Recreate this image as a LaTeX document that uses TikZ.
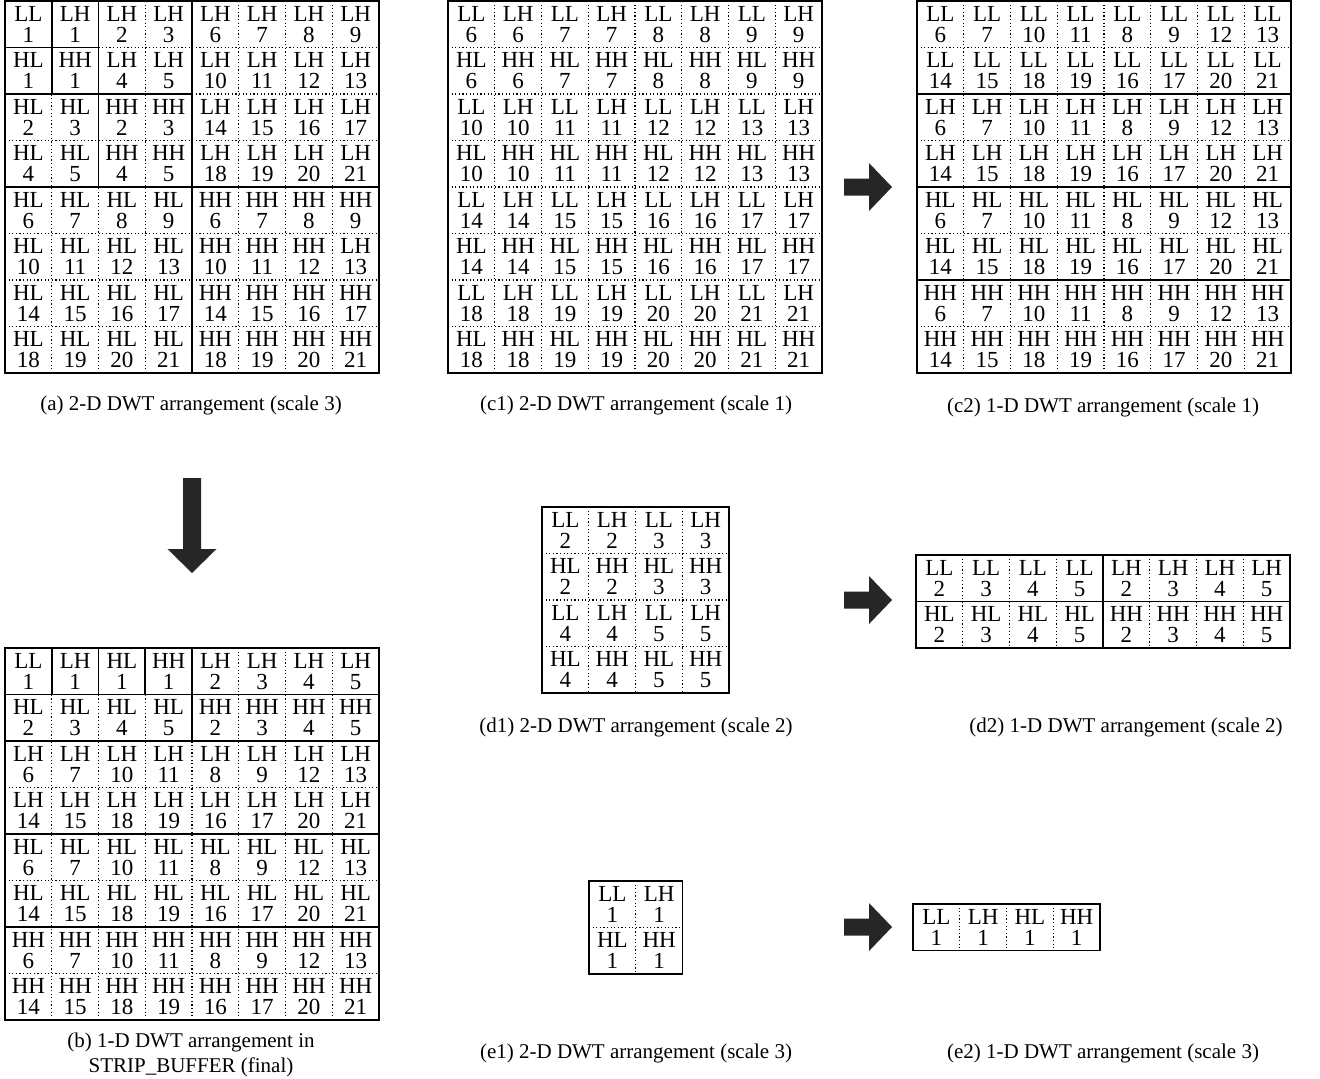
\documentclass[tikz,border=0pt]{standalone}
\usepackage{fontspec}
\setmainfont{Liberation Serif}
\begin{document}
\begin{tikzpicture}[x=0.5pt,y=-0.5pt,
  cell/.style={align=center,inner sep=0pt,font=\fontsize{11.5}{10.5}\selectfont},
  caption/.style={align=center,inner sep=0pt,font=\fontsize{10.5}{12.5}\selectfont},
  dotline/.style={line width=0.6pt,dash pattern=on 0.6pt off 1.2pt},
  bandline/.style={line width=0.8pt},
  frame/.style={line width=0.7pt},
  blockarrow/.style={fill=black!85}]

\useasboundingbox (0,0) rectangle (1320,1078);
\def\cw{46.75}
\def\ch{46.5}

% (a) 2-D arrangement, scale 3
\begin{scope}[shift={(5,1)}]
\foreach \i in {1,...,7} {
  \draw[dotline] (\i*\cw,0) -- (\i*\cw,8*\ch);
  \draw[dotline] (0,\i*\ch) -- (8*\cw,\i*\ch);
}
\draw[bandline] (4*\cw,0) -- (4*\cw,8*\ch);
\draw[bandline] (0,4*\ch) -- (8*\cw,4*\ch);
\draw[bandline] (2*\cw,0) -- (2*\cw,4*\ch);
\draw[bandline] (0,2*\ch) -- (4*\cw,2*\ch);
\draw[bandline] (1*\cw,0) -- (1*\cw,2*\ch);
\draw[bandline] (0,1*\ch) -- (2*\cw,1*\ch);
\draw[frame] (0,0) rectangle (8*\cw,8*\ch);
\foreach \row [count=\r from 0] in {
  {LL/1,LH/1,LH/2,LH/3,LH/6,LH/7,LH/8,LH/9},
  {HL/1,HH/1,LH/4,LH/5,LH/10,LH/11,LH/12,LH/13},
  {HL/2,HL/3,HH/2,HH/3,LH/14,LH/15,LH/16,LH/17},
  {HL/4,HL/5,HH/4,HH/5,LH/18,LH/19,LH/20,LH/21},
  {HL/6,HL/7,HL/8,HL/9,HH/6,HH/7,HH/8,HH/9},
  {HL/10,HL/11,HL/12,HL/13,HH/10,HH/11,HH/12,LH/13},
  {HL/14,HL/15,HL/16,HL/17,HH/14,HH/15,HH/16,HH/17},
  {HL/18,HL/19,HL/20,HL/21,HH/18,HH/19,HH/20,HH/21}}
  \foreach \lab/\num [count=\c from 0] in \row
    \node[cell] (a-\r-\c) at ({(\c+0.5)*\cw},{(\r+0.5)*\ch}) {\lab\\\num};
\end{scope}

% (c1) 2-D arrangement, scale 1
\begin{scope}[shift={(448,1)}]
\foreach \i in {1,...,7} {
  \draw[dotline] (\i*\cw,0) -- (\i*\cw,8*\ch);
  \draw[dotline] (0,\i*\ch) -- (8*\cw,\i*\ch);
}
\draw[frame] (0,0) rectangle (8*\cw,8*\ch);
\foreach \row [count=\r from 0] in {
  {LL/6,LH/6,LL/7,LH/7,LL/8,LH/8,LL/9,LH/9},
  {HL/6,HH/6,HL/7,HH/7,HL/8,HH/8,HL/9,HH/9},
  {LL/10,LH/10,LL/11,LH/11,LL/12,LH/12,LL/13,LH/13},
  {HL/10,HH/10,HL/11,HH/11,HL/12,HH/12,HL/13,HH/13},
  {LL/14,LH/14,LL/15,LH/15,LL/16,LH/16,LL/17,LH/17},
  {HL/14,HH/14,HL/15,HH/15,HL/16,HH/16,HL/17,HH/17},
  {LL/18,LH/18,LL/19,LH/19,LL/20,LH/20,LL/21,LH/21},
  {HL/18,HH/18,HL/19,HH/19,HL/20,HH/20,HL/21,HH/21}}
  \foreach \lab/\num [count=\c from 0] in \row
    \node[cell] (c1-\r-\c) at ({(\c+0.5)*\cw},{(\r+0.5)*\ch}) {\lab\\\num};
\end{scope}

% (c2) 1-D arrangement, scale 1
\begin{scope}[shift={(917,1)}]
\foreach \i in {1,...,7} {
  \draw[dotline] (\i*\cw,0) -- (\i*\cw,8*\ch);
  \draw[dotline] (0,\i*\ch) -- (8*\cw,\i*\ch);
}
\foreach \i in {2,4,6}
  \draw[bandline] (0,\i*\ch) -- (8*\cw,\i*\ch);
\draw[frame] (0,0) rectangle (8*\cw,8*\ch);
\foreach \row [count=\r from 0] in {
  {LL/6,LL/7,LL/10,LL/11,LL/8,LL/9,LL/12,LL/13},
  {LL/14,LL/15,LL/18,LL/19,LL/16,LL/17,LL/20,LL/21},
  {LH/6,LH/7,LH/10,LH/11,LH/8,LH/9,LH/12,LH/13},
  {LH/14,LH/15,LH/18,LH/19,LH/16,LH/17,LH/20,LH/21},
  {HL/6,HL/7,HL/10,HL/11,HL/8,HL/9,HL/12,HL/13},
  {HL/14,HL/15,HL/18,HL/19,HL/16,HL/17,HL/20,HL/21},
  {HH/6,HH/7,HH/10,HH/11,HH/8,HH/9,HH/12,HH/13},
  {HH/14,HH/15,HH/18,HH/19,HH/16,HH/17,HH/20,HH/21}}
  \foreach \lab/\num [count=\c from 0] in \row
    \node[cell] (c2-\r-\c) at ({(\c+0.5)*\cw},{(\r+0.5)*\ch}) {\lab\\\num};
\end{scope}

% (b) final strip buffer
\begin{scope}[shift={(5,648)}]
\foreach \i in {1,...,7} {
  \draw[dotline] (\i*\cw,0) -- (\i*\cw,8*\ch);
  \draw[dotline] (0,\i*\ch) -- (8*\cw,\i*\ch);
}
\foreach \i in {1,2,3}
  \draw[bandline] (\i*\cw,0) -- (\i*\cw,\ch);
\draw[bandline] (4*\cw,0) -- (4*\cw,2*\ch);
\foreach \i in {1,2,4,6}
  \draw[bandline] (0,\i*\ch) -- (8*\cw,\i*\ch);
\draw[frame] (0,0) rectangle (8*\cw,8*\ch);
\foreach \row [count=\r from 0] in {
  {LL/1,LH/1,HL/1,HH/1,LH/2,LH/3,LH/4,LH/5},
  {HL/2,HL/3,HL/4,HL/5,HH/2,HH/3,HH/4,HH/5},
  {LH/6,LH/7,LH/10,LH/11,LH/8,LH/9,LH/12,LH/13},
  {LH/14,LH/15,LH/18,LH/19,LH/16,LH/17,LH/20,LH/21},
  {HL/6,HL/7,HL/10,HL/11,HL/8,HL/9,HL/12,HL/13},
  {HL/14,HL/15,HL/18,HL/19,HL/16,HL/17,HL/20,HL/21},
  {HH/6,HH/7,HH/10,HH/11,HH/8,HH/9,HH/12,HH/13},
  {HH/14,HH/15,HH/18,HH/19,HH/16,HH/17,HH/20,HH/21}}
  \foreach \lab/\num [count=\c from 0] in \row
    \node[cell] (b-\r-\c) at ({(\c+0.5)*\cw},{(\r+0.5)*\ch}) {\lab\\\num};
\end{scope}

% (d1) 2-D arrangement, scale 2
\begin{scope}[shift={(542,507)}]
\foreach \i in {1,2,3} {
  \draw[dotline] (\i*\cw,0) -- (\i*\cw,4*\ch);
  \draw[dotline] (0,\i*\ch) -- (4*\cw,\i*\ch);
}
\draw[frame] (0,0) rectangle (4*\cw,4*\ch);
\foreach \row [count=\r from 0] in {
  {LL/2,LH/2,LL/3,LH/3},
  {HL/2,HH/2,HL/3,HH/3},
  {LL/4,LH/4,LL/5,LH/5},
  {HL/4,HH/4,HL/5,HH/5}}
  \foreach \lab/\num [count=\c from 0] in \row
    \node[cell] (d1-\r-\c) at ({(\c+0.5)*\cw},{(\r+0.5)*\ch}) {\lab\\\num};
\end{scope}

% (d2) 1-D arrangement, scale 2
\begin{scope}[shift={(916,555)}]
\foreach \i in {1,...,7}
  \draw[dotline] (\i*\cw,0) -- (\i*\cw,2*\ch);
\draw[bandline] (4*\cw,0) -- (4*\cw,2*\ch);
\draw[bandline] (0,\ch) -- (8*\cw,\ch);
\draw[frame] (0,0) rectangle (8*\cw,2*\ch);
\foreach \row [count=\r from 0] in {
  {LL/2,LL/3,LL/4,LL/5,LH/2,LH/3,LH/4,LH/5},
  {HL/2,HL/3,HL/4,HL/5,HH/2,HH/3,HH/4,HH/5}}
  \foreach \lab/\num [count=\c from 0] in \row
    \node[cell] (d2-\r-\c) at ({(\c+0.5)*\cw},{(\r+0.5)*\ch}) {\lab\\\num};
\end{scope}

% (e1) 2-D arrangement, scale 3
\begin{scope}[shift={(589,881)}]
\draw[dotline] (\cw,0) -- (\cw,2*\ch);
\draw[dotline] (0,\ch) -- (2*\cw,\ch);
\draw[frame] (0,0) rectangle (2*\cw,2*\ch);
\foreach \row [count=\r from 0] in {{LL/1,LH/1},{HL/1,HH/1}}
  \foreach \lab/\num [count=\c from 0] in \row
    \node[cell] (e1-\r-\c) at ({(\c+0.5)*\cw},{(\r+0.5)*\ch}) {\lab\\\num};
\end{scope}

% (e2) 1-D arrangement, scale 3
\begin{scope}[shift={(913,904)}]
\foreach \i in {1,2,3}
  \draw[dotline] (\i*\cw,0) -- (\i*\cw,\ch);
\draw[frame] (0,0) rectangle (4*\cw,\ch);
\foreach \lab/\num [count=\c from 0] in {LL/1,LH/1,HL/1,HH/1}
  \node[cell] (e2-0-\c) at ({(\c+0.5)*\cw},{0.5*\ch}) {\lab\\\num};
\end{scope}

% Block arrows
\foreach \y in {187,600,927}
  \fill[blockarrow,shift={(844,\y)}] (0,-8.5) -- (25,-8.5) -- (25,-24) -- (48,0)
    -- (25,24) -- (25,8.5) -- (0,8.5) -- cycle;
\fill[blockarrow,shift={(192,478)}] (-9,0) -- (9,0) -- (9,71) -- (24.5,71)
  -- (0,95) -- (-24.5,71) -- (-9,71) -- cycle;

% Captions
\node[caption] (cap-a) at (191,405) {(a) 2-D DWT arrangement (scale 3)};
\node[caption] (cap-c1) at (636,405) {(c1) 2-D DWT arrangement (scale 1)};
\node[caption] (cap-c2) at (1103,407) {(c2) 1-D DWT arrangement (scale 1)};
\node[caption] (cap-b) at (191,1055) {(b) 1-D DWT arrangement in\\STRIP\_BUFFER (final)};
\node[caption] (cap-d1) at (636,727) {(d1) 2-D DWT arrangement (scale 2)};
\node[caption] (cap-d2) at (1126,727) {(d2) 1-D DWT arrangement (scale 2)};
\node[caption] (cap-e1) at (636,1053) {(e1) 2-D DWT arrangement (scale 3)};
\node[caption] (cap-e2) at (1103,1053) {(e2) 1-D DWT arrangement (scale 3)};

\end{tikzpicture}
\end{document}
